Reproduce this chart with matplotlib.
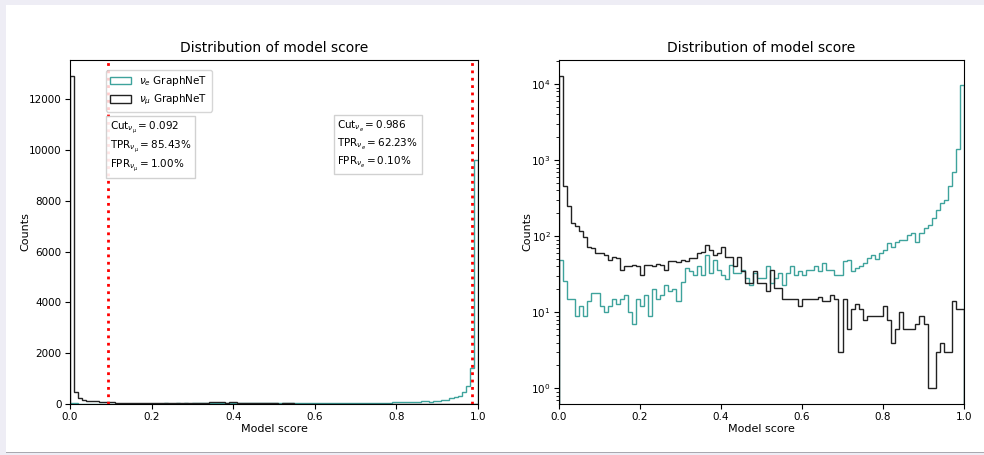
import numpy as np
import matplotlib
matplotlib.use("Agg")
import matplotlib.pyplot as plt
from matplotlib.patches import Rectangle

# bins du score du modèle : 100 bins entre 0 et 1
bin_edges = np.linspace(0.0, 1.0, 101)

# comptages nu_e (échelle log)
counts_nue = [
    49, 26, 15, 15, 9, 12, 9, 14, 18, 18,
    12, 10, 12, 15, 13, 15, 17, 10, 7, 15,
    12, 17, 9, 20, 15, 17, 23, 19, 20, 14,
    25, 38, 35, 31, 40, 31, 57, 33, 49, 36,
    31, 27, 42, 33, 33, 36, 28, 23, 33, 28,
    28, 40, 24, 28, 33, 23, 33, 40, 31, 35,
    31, 36, 36, 40, 35, 44, 36, 36, 31, 31,
    47, 49, 35, 38, 40, 44, 52, 57, 50, 60,
    66, 82, 73, 85, 89, 89, 104, 111, 85, 109,
    127, 141, 172, 221, 270, 300, 455, 700, 1420, 9600,
]

# comptages nu_mu
counts_numu = [
    12900, 455, 250, 148, 137, 118, 99, 73, 70, 60,
    61, 57, 49, 53, 51, 36, 41, 40, 42, 41,
    31, 42, 42, 41, 43, 42, 36, 47, 47, 46,
    48, 47, 52, 52, 60, 62, 77, 66, 57, 60,
    73, 54, 54, 40, 54, 35, 24, 24, 35, 24,
    24, 19, 36, 21, 21, 15, 15, 15, 15, 12,
    15, 15, 15, 15, 16, 14, 14, 17, 15, 3,
    15, 6, 11, 13, 11, 8, 9, 9, 9, 9,
    12, 8, 4, 6, 10, 6, 6, 6, 7, 9,
    7, 1, 1, 3, 4, 3, 3, 14, 11, 11,
]

labels = [r"$\nu_e$ GraphNeT", r"$\nu_\mu$ GraphNeT"]

# coupures et performances
cut_numu = 0.092
cut_nue = 0.986
texte_numu = (r"$\mathrm{Cut}_{\nu_\mu} = 0.092$" "\n"
              r"$\mathrm{TPR}_{\nu_\mu} = 85.43\%$" "\n"
              r"$\mathrm{FPR}_{\nu_\mu} = 1.00\%$")
texte_nue = (r"$\mathrm{Cut}_{\nu_e} = 0.986$" "\n"
             r"$\mathrm{TPR}_{\nu_e} = 62.23\%$" "\n"
             r"$\mathrm{FPR}_{\nu_e} = 0.10\%$")

TEAL = "#3ea39c"
NOIR = "#222222"

centres = (bin_edges[:-1] + bin_edges[1:]) / 2

fig = plt.figure(figsize=(9.84, 4.55), dpi=100, facecolor="#eeedf5")
# fond blanc de la capture
fig.patches.append(Rectangle((6 / 984, 3 / 455), 1, 447 / 455, transform=fig.transFigure,
                             facecolor="white", edgecolor="none", zorder=-10))
fig.patches.append(Rectangle((6 / 984, 2.5 / 455), 1, 1 / 455, transform=fig.transFigure,
                             facecolor="#a9a9b0", edgecolor="none", zorder=-9))

ax1 = fig.add_axes([70 / 984, 51 / 455, 408 / 984, 344 / 455])
ax2 = fig.add_axes([559 / 984, 51 / 455, 405 / 984, 344 / 455])

for ax, log in ((ax1, False), (ax2, True)):
    ax.hist(centres, bins=bin_edges, weights=counts_nue, histtype="step",
            color=TEAL, label=labels[0], log=log)
    ax.hist(centres, bins=bin_edges, weights=counts_numu, histtype="step",
            color=NOIR, label=labels[1], log=log)
    ax.set_xlim(0, 1)
    ax.set_title("Distribution of model score", fontsize=10)
    ax.set_xlabel("Model score", fontsize=8, labelpad=1)
    ax.set_ylabel("Counts", fontsize=8, labelpad=-1)
    ax.tick_params(labelsize=7.5, pad=2.5)

# lignes de coupure
ax1.axvline(cut_numu, color="red", linestyle=":", linewidth=2)
ax1.axvline(cut_nue, color="red", linestyle=":", linewidth=2)

ax1.legend(loc="upper left", bbox_to_anchor=(0.088, 0.972), borderaxespad=0,
           fontsize=7.5, frameon=True)

boite = dict(boxstyle="square,pad=0.35", facecolor="white", edgecolor="0.8", alpha=0.9)
ax1.text(0.097, 0.826, texte_numu, transform=ax1.transAxes, fontsize=7.5,
         va="top", ha="left", bbox=boite, linespacing=1.3)
ax1.text(0.655, 0.829, texte_nue, transform=ax1.transAxes, fontsize=7.5,
         va="top", ha="left", bbox=boite, linespacing=1.3)

fig.savefig("out.png", dpi=100, facecolor=fig.get_facecolor())
